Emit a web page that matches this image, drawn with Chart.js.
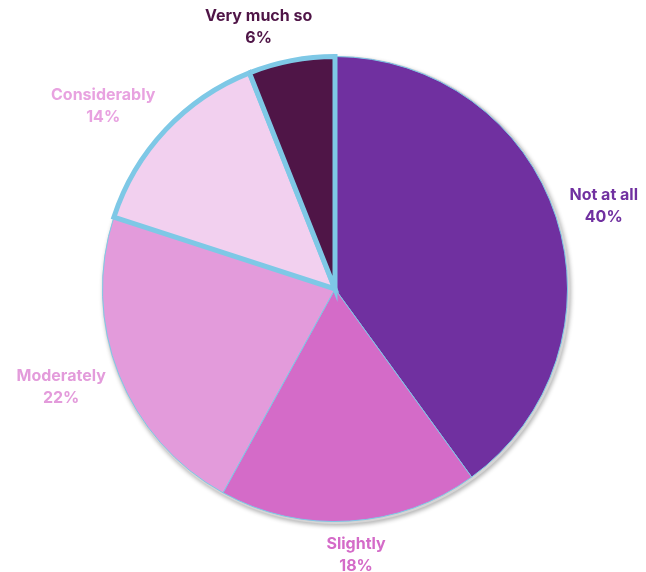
<!DOCTYPE html>
<html lang="en">
<head>
  <meta charset="UTF-8" />
  <title>Response distribution</title>
  <script src="https://cdn.jsdelivr.net/npm/chart.js@4.4.1/dist/chart.umd.min.js"></script>
  <style>
    body { margin: 0; background: #ffffff; }
    #wrap { width: 646px; height: 572px; }
  </style>
</head>
<body>
  <div id="wrap"><canvas id="pieChart" width="646" height="572"></canvas></div>

  <script>
    const categories = ["Not at all", "Slightly", "Moderately", "Considerably", "Very much so"];
    const shares = [40, 18, 22, 14, 6];
    const sliceColors = ["#7030A0", "#D46BC8", "#E39BDB", "#F2D0EF", "#4F1547"];
    const labelColors = ["#7030A0", "#D46BC8", "#E39BDB", "#E8A2E0", "#4F1547"];
    const edgeWidths = [1, 1, 1, 5, 5];

    // soft grey halo behind the pie
    const haloPlugin = {
      id: "halo",
      beforeDatasetsDraw(chart) {
        const arc = chart.getDatasetMeta(0).data[0];
        if (!arc) return;
        const { x, y, outerRadius } = arc.getProps(["x", "y", "outerRadius"], true);
        const ctx = chart.ctx;
        ctx.save();
        ctx.beginPath();
        ctx.arc(x + 1, y + 1, outerRadius + 1.5, 0, Math.PI * 2);
        ctx.fillStyle = "#d4d4d4";
        ctx.shadowColor = "rgba(0,0,0,0.3)";
        ctx.shadowBlur = 4;
        ctx.shadowOffsetX = 1;
        ctx.shadowOffsetY = 2;
        ctx.fill();
        ctx.restore();
      }
    };

    // category name + percentage outside each slice
    const outsideLabels = {
      id: "outsideLabels",
      afterDatasetsDraw(chart) {
        const ctx = chart.ctx;
        const meta = chart.getDatasetMeta(0);
        ctx.save();
        ctx.font = "bold 16px Inter, 'Open Sans', sans-serif";
        ctx.textAlign = "center";
        ctx.textBaseline = "middle";
        meta.data.forEach((arc, i) => {
          const { x, y, startAngle, endAngle, outerRadius } =
            arc.getProps(["x", "y", "startAngle", "endAngle", "outerRadius"], true);
          const mid = (startAngle + endAngle) / 2;
          const dx = Math.cos(mid), dy = Math.sin(mid);
          const lines = [categories[i], shares[i] + "%"];
          const w = Math.max(...lines.map(t => ctx.measureText(t).width));
          const h = 40;
          const gap = 14;
          // push the box sideways quickly once the label leaves the top/bottom
          const side = Math.max(-1, Math.min(1, dx * 3));
          const cx = x + dx * (outerRadius + gap) + side * w / 2;
          const cy = y + dy * (outerRadius + gap) + dy * h / 2;
          ctx.fillStyle = labelColors[i];
          ctx.fillText(lines[0], cx, cy - 11);
          ctx.fillText(lines[1], cx, cy + 11);
        });
        ctx.restore();
      }
    };

    new Chart(document.getElementById("pieChart"), {
      type: "pie",
      data: {
        labels: categories,
        datasets: [{
          data: shares,
          backgroundColor: sliceColors,
          borderColor: "#7EC8E6",
          borderWidth: edgeWidths,
          borderJoinStyle: "miter"
        }]
      },
      options: {
        responsive: false,
        animation: false,
        layout: { padding: { left: 100, right: 76, top: 53, bottom: 47 } },
        plugins: {
          legend: { display: false },
          tooltip: { enabled: false }
        }
      },
      plugins: [haloPlugin, outsideLabels]
    });
  </script>
</body>
</html>
